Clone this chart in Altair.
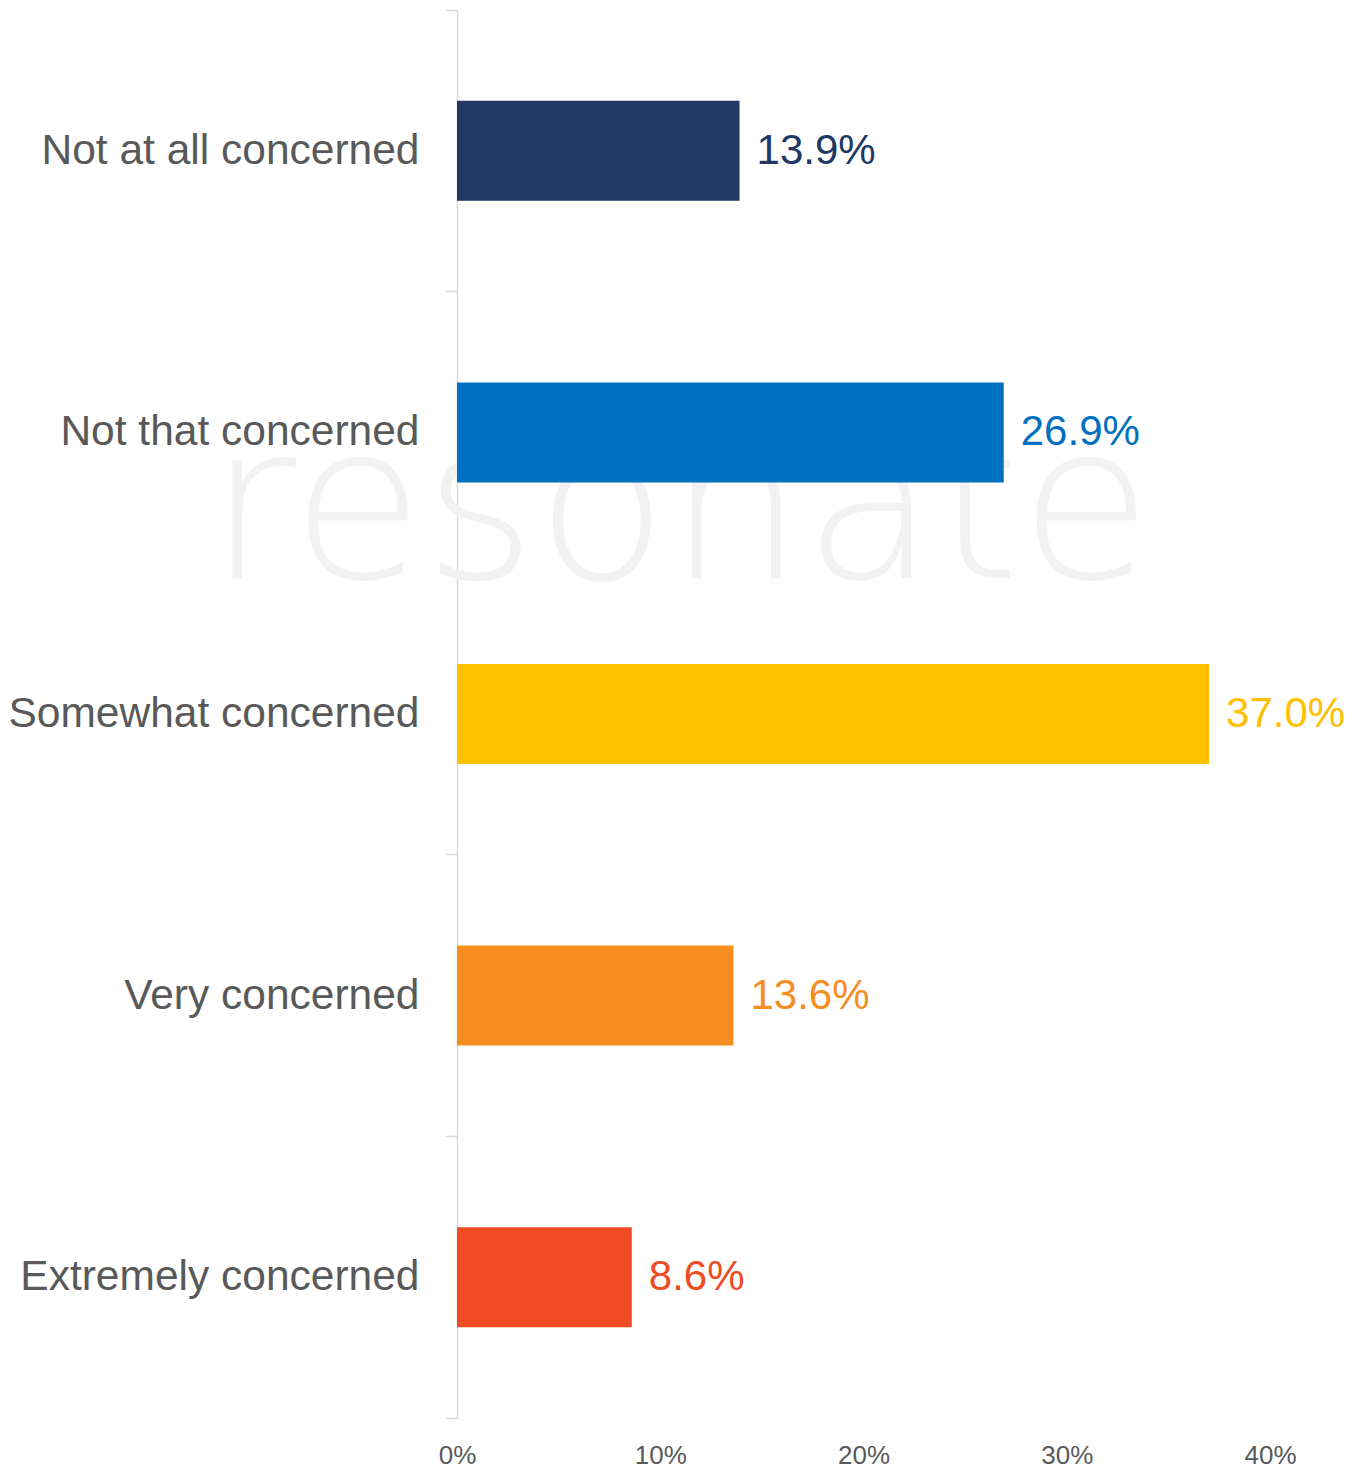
import altair as alt
import pandas as pd

categories = ["Not at all concerned", "Not that concerned", "Somewhat concerned",
              "Very concerned", "Extremely concerned"]
values = [13.9, 26.9, 37.0, 13.6, 8.6]
colors = ["#203864", "#0070C0", "#FFC000", "#F58D1F", "#EF4C23"]
x_ticks = [0, 10, 20, 30, 40]
watermark = ["resonate"]

df = pd.DataFrame({"category": categories, "value": values,
                   "label": [f"{v:.1f}%" for v in values]})

FONT = "Liberation Sans"

y_enc = alt.Y("category:N", sort=categories, title=None,
              scale=alt.Scale(paddingInner=0, paddingOuter=0),
              axis=alt.Axis(bandPosition=1, tickExtra=True, tickSize=12,
                            tickColor="#d9d9d9", domainColor="#d9d9d9",
                            domainWidth=1.5, tickWidth=1.5,
                            labelFont=FONT, labelFontSize=42.5, labelColor="#595959",
                            labelPadding=26, labelLimit=600))
x_enc = alt.X("value:Q", title=None,
              scale=alt.Scale(domain=[0, 40], nice=False),
              axis=alt.Axis(values=x_ticks, labelExpr="datum.value + '%'",
                            domain=False, ticks=False, grid=False, labelFlush=False,
                            labelFont=FONT, labelFontSize=26, labelColor="#595959",
                            labelPadding=24))
color_enc = alt.Color("category:N", sort=categories,
                      scale=alt.Scale(domain=categories, range=colors), legend=None)

wm = alt.Chart(pd.DataFrame({"w": watermark})).mark_text(
    font="DejaVu Sans", fontWeight=200, fontSize=215, color="#f2f2f2",
    align="center", baseline="alphabetic"
).encode(text="w:N", x=alt.value(223), y=alt.value(568))

bars = alt.Chart(df).mark_bar(size=100).encode(y=y_enc, x=x_enc, color=color_enc)

labels = alt.Chart(df).mark_text(
    align="left", baseline="middle", dx=17, font=FONT, fontSize=42
).encode(y=alt.Y("category:N", sort=categories), x="value:Q", text="label:N",
         color=color_enc)

chart = alt.layer(wm, bars, labels).properties(
    width=813, height=1408,
    autosize=alt.AutoSizeParams(type="none"),
    padding={"left": 457, "top": 10, "right": 90, "bottom": 51}
).configure(background="white").configure_view(stroke=None)

chart.save("out.html", embed_options={"renderer": "svg", "actions": False})
